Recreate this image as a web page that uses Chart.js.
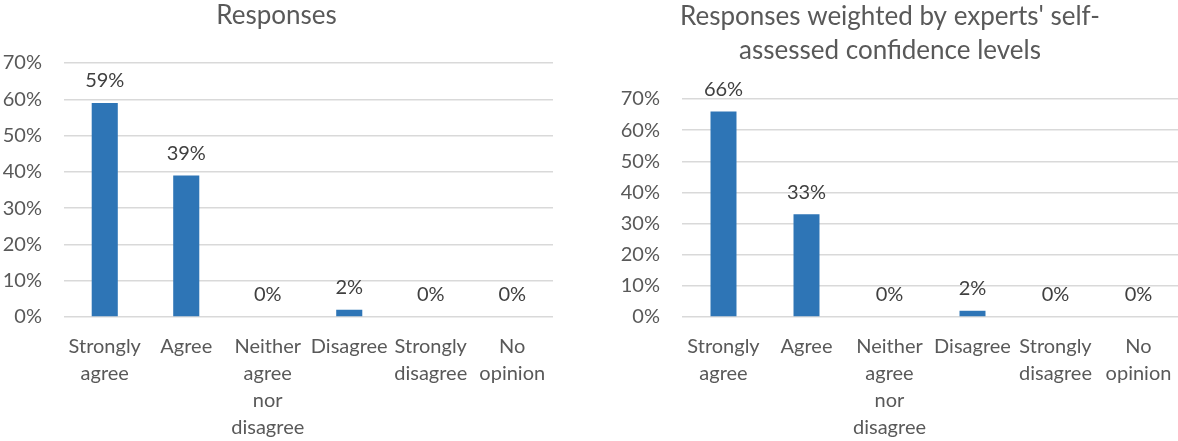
<!DOCTYPE html>
<html>
<head>
<meta charset="utf-8">
<script src="https://cdn.jsdelivr.net/npm/chart.js@4/dist/chart.umd.min.js"></script>
<style>
  html, body { margin: 0; padding: 0; background: #fff; overflow: hidden; width: 1178px; height: 441px; }
  .box { position: absolute; top: 0; height: 441px; }
  #b1 { left: 0; width: 568px; }
  #b2 { left: 600px; width: 608px; }
</style>
</head>
<body>
<div class="box" id="b1"><canvas id="c1"></canvas></div>
<div class="box" id="b2"><canvas id="c2"></canvas></div>
<script>
const categories = [
  ["Strongly", "agree"],
  ["Agree"],
  ["Neither", "agree", "nor", "disagree"],
  ["Disagree"],
  ["Strongly", "disagree"],
  ["No", "opinion"]
];
const responses = [59, 39, 0, 2, 0, 0];
const weightedResponses = [66, 33, 0, 2, 0, 0];
const yTicks = [0, 10, 20, 30, 40, 50, 60, 70];
const title1 = "Responses";
const title2 = ["Responses weighted by experts' self-", "assessed confidence levels"];

const FONT = "Lato, 'Open Sans', sans-serif";
const BAR = "#2E75B6";

const valueLabels = {
  id: "valueLabels",
  afterDatasetsDraw(chart) {
    const ctx = chart.ctx;
    const meta = chart.getDatasetMeta(0);
    const data = chart.data.datasets[0].data;
    ctx.save();
    ctx.font = "20px " + FONT;
    ctx.fillStyle = "#404040";
    ctx.textAlign = "center";
    ctx.textBaseline = "middle";
    meta.data.forEach((bar, i) => {
      ctx.fillText(data[i] + "%", bar.x, bar.y - 22);
    });
    ctx.restore();
  }
};

function makeChart(id, values, title, titleLH, titlePadBottom, yWidth, padRight, barPct) {
  return new Chart(document.getElementById(id), {
    type: "bar",
    data: {
      labels: categories,
      datasets: [{
        data: values,
        backgroundColor: BAR,
        borderWidth: 0,
        categoryPercentage: 1,
        barPercentage: barPct
      }]
    },
    options: {
      responsive: true,
      maintainAspectRatio: false,
      animation: false,
      layout: { padding: { left: 0, right: padRight, top: 0, bottom: 0 } },
      plugins: {
        legend: { display: false },
        tooltip: { enabled: false },
        title: {
          display: true,
          text: title,
          color: "#595959",
          font: { family: FONT, size: 26, weight: "normal", lineHeight: titleLH },
          padding: { top: 0, bottom: titlePadBottom }
        }
      },
      scales: {
        x: {
          grid: { display: false, drawTicks: false },
          border: { display: false },
          ticks: {
            color: "#595959",
            font: { family: FONT, size: 20, lineHeight: 1.35 },
            padding: 16,
            autoSkip: false,
            maxRotation: 0,
            minRotation: 0
          },
          afterFit: (s) => { s.height = 124; }
        },
        y: {
          min: 0,
          max: yTicks[yTicks.length - 1],
          afterBuildTicks: (s) => { s.ticks = yTicks.map(v => ({ value: v })); },
          grid: { color: "#d9d9d9", lineWidth: 1.5, drawTicks: false },
          border: { display: false },
          ticks: {
            color: "#595959",
            font: { family: FONT, size: 20 },
            padding: 22,
            callback: (v) => v + "%"
          },
          afterFit: (s) => { s.width = yWidth; }
        }
      }
    },
    plugins: [valueLabels]
  });
}

makeChart("c1", responses, title1, 1.2, 31.8, 64, 15, 0.32);
makeChart("c2", weightedResponses, title2, 1.3, 31.4, 82, 28, 0.313);
</script>
</body>
</html>
